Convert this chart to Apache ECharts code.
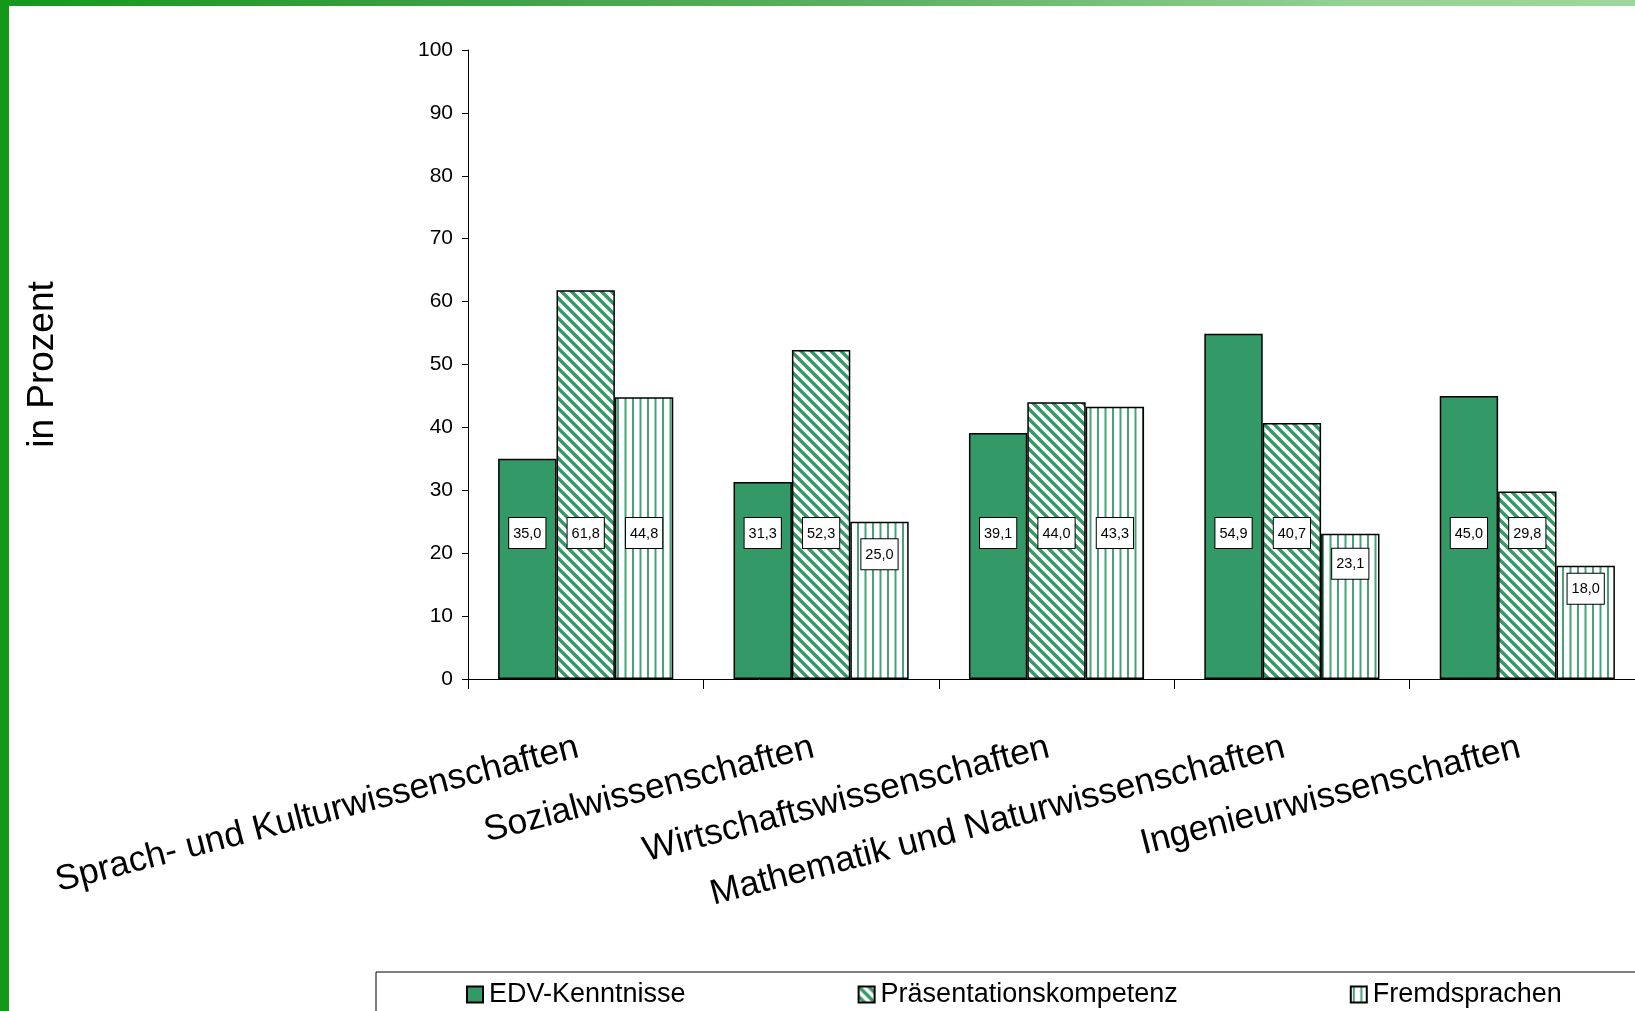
<!DOCTYPE html>
<html>
<head>
<meta charset="utf-8">
<script src="https://cdn.jsdelivr.net/npm/echarts@6/dist/echarts.min.js"></script>
<style>
  html, body { margin: 0; padding: 0; background: #fff; }
  #chart { width: 1635px; height: 1011px; }
</style>
</head>
<body>
<div id="chart"></div>
<script>
const categories = [
  'Sprach- und Kulturwissenschaften',
  'Sozialwissenschaften',
  'Wirtschaftswissenschaften',
  'Mathematik und Naturwissenschaften',
  'Ingenieurwissenschaften'
];
const seriesNames = ['EDV-Kenntnisse', 'Präsentationskompetenz', 'Fremdsprachen'];
const edv = [35.0, 31.3, 39.1, 54.9, 45.0];
const praes = [61.8, 52.3, 44.0, 40.7, 29.8];
const fremd = [44.8, 25.0, 43.3, 23.1, 18.0];

const GREEN = '#339966';
const FONT = "'Liberation Sans', Arial, sans-serif";
const plotTop = 50, plotBottomY = 679, plotLeft = 468;
const pxPerUnit = (plotBottomY - plotTop) / 100;

function diagPattern() {
  const s = 10;
  const c = document.createElement('canvas');
  c.width = s; c.height = s;
  const g = c.getContext('2d');
  g.fillStyle = '#fff'; g.fillRect(0, 0, s, s);
  g.strokeStyle = GREEN; g.lineWidth = 3.4;
  g.beginPath();
  g.moveTo(-3, -3); g.lineTo(s + 3, s + 3);
  g.moveTo(-3, s - 3); g.lineTo(3, s + 3);
  g.moveTo(s - 3, -3); g.lineTo(s + 3, 3);
  g.stroke();
  return c;
}
function vertPattern() {
  const c = document.createElement('canvas');
  c.width = 15; c.height = 4;
  const g = c.getContext('2d');
  g.fillStyle = '#fff'; g.fillRect(0, 0, 15, 4);
  g.fillStyle = '#45a377';
  g.fillRect(2, 0, 2, 4);
  g.fillRect(9.5, 0, 2, 4);
  return c;
}

function items(arr) {
  return arr.map(v => ({
    value: v,
    label: { distance: Math.min(131, v * pxPerUnit * 0.78 - 13) }
  }));
}

const labelStyle = {
  show: true,
  position: 'insideBottom',
  formatter: p => p.value.toFixed(1).replace('.', ','),
  backgroundColor: '#fff',
  borderColor: '#000',
  borderWidth: 1,
  padding: [8, 4, 7, 4],
  fontSize: 14.5,
  fontFamily: FONT,
  color: '#000'
};

const fills = [GREEN, { image: diagPattern(), repeat: 'repeat' }, { image: vertPattern(), repeat: 'repeat' }];
const dataSets = [edv, praes, fremd];

const chart = echarts.init(document.getElementById('chart'), null, { renderer: 'canvas' });
chart.setOption({
  animation: false,
  backgroundColor: '#fff',
  textStyle: { fontFamily: FONT },
  graphic: [
    { type: 'rect', left: 0, top: 0, z: 100, shape: { width: 1635, height: 6 },
      style: { fill: { type: 'linear', x: 0, y: 0, x2: 1, y2: 0, colorStops: [
        { offset: 0, color: '#14981a' }, { offset: 0.25, color: '#3a9e40' },
        { offset: 0.55, color: '#5fb262' }, { offset: 0.83, color: '#93d293' }, { offset: 1, color: '#9dd79d' }] } } },
    { type: 'rect', left: 0, top: 0, z: 100, shape: { width: 9, height: 1011 }, style: { fill: '#14981a' } }
  ],
  grid: {
    left: plotLeft, top: plotTop, width: 1177, height: plotBottomY - plotTop,
    containLabel: false, outerBoundsMode: 'none'
  },
  legend: {
    data: seriesNames,
    left: 376, top: 972,
    width: 1400,
    padding: [9, 100, 8, 90],
    itemGap: 172,
    itemWidth: 16, itemHeight: 16,
    icon: 'rect',
    borderColor: '#000', borderWidth: 1,
    textStyle: { fontSize: 27, lineHeight: 26, color: '#000', fontFamily: FONT, padding: [0, 0, 0, 1] }
  },
  xAxis: {
    type: 'category',
    data: categories,
    axisLine: { lineStyle: { color: '#000', width: 1 } },
    axisTick: { show: true, length: 10, alignWithLabel: false, lineStyle: { color: '#000' } },
    axisLabel: { interval: 0, rotate: 14.5, margin: 66, fontSize: 35.5, color: '#000', fontFamily: FONT, padding: [0, 8, 0, 0] },
    splitLine: { show: false }
  },
  yAxis: {
    type: 'value',
    min: 0, max: 100, interval: 10,
    name: 'in Prozent',
    nameLocation: 'middle',
    nameRotate: 90,
    nameGap: 407,
    nameTextStyle: { fontSize: 37, color: '#000', fontFamily: FONT },
    axisLine: { show: true, lineStyle: { color: '#000', width: 1 } },
    axisTick: { show: true, length: 6, lineStyle: { color: '#000' } },
    axisLabel: { fontSize: 21, color: '#000', margin: 15, fontFamily: FONT },
    splitLine: { show: false }
  },
  series: seriesNames.map((name, i) => ({
    name: name,
    type: 'bar',
    data: items(dataSets[i]),
    barGap: '0%',
    barCategoryGap: '25.6%',
    itemStyle: { color: fills[i], borderColor: '#000', borderWidth: 1.5 },
    label: labelStyle
  }))
});
</script>
</body>
</html>
